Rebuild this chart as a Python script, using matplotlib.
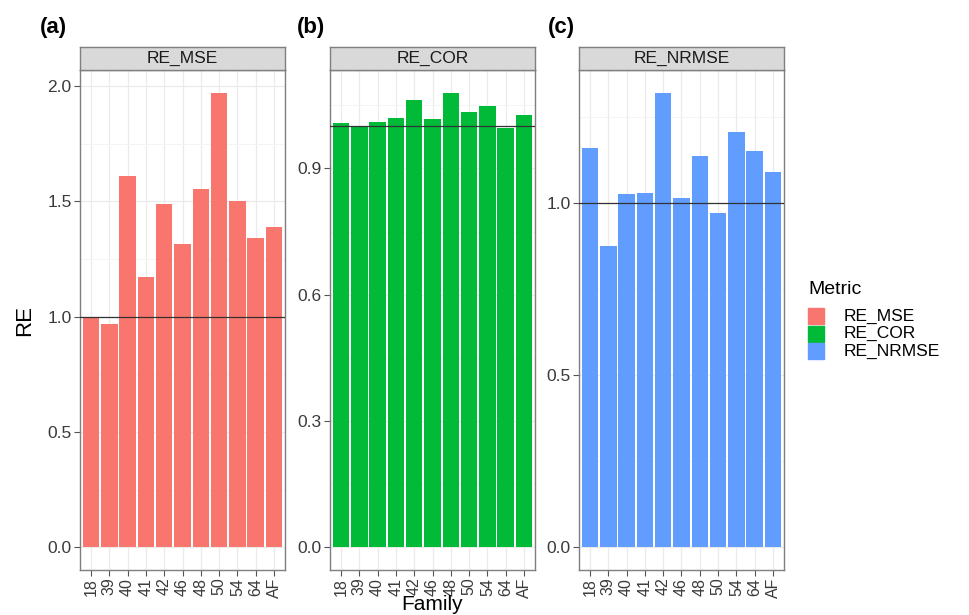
import matplotlib.pyplot as plt
from matplotlib.patches import Rectangle

plt.rcParams['font.family'] = ['Liberation Sans', 'DejaVu Sans']

families = ['18', '39', '40', '41', '42', '46', '48', '50', '54', '64', 'AF']
re_mse = [1.00, 0.967, 1.61, 1.17, 1.488, 1.313, 1.553, 1.971, 1.502, 1.339, 1.39]
re_cor = [1.008, 0.999, 1.011, 1.02, 1.062, 1.017, 1.08, 1.034, 1.049, 0.997, 1.027]
re_nrmse = [1.158, 0.874, 1.025, 1.029, 1.319, 1.013, 1.135, 0.969, 1.206, 1.151, 1.089]

metrics = ['RE_MSE', 'RE_COR', 'RE_NRMSE']
values = [re_mse, re_cor, re_nrmse]
colors = ['#F8766D', '#00BA38', '#619CFF']
yticks = [[0.0, 0.5, 1.0, 1.5, 2.0], [0.0, 0.3, 0.6, 0.9], [0.0, 0.5, 1.0]]
panel_tags = ['(a)', '(b)', '(c)']

W, H = 970, 615
fig = plt.figure(figsize=(W / 100, H / 100), dpi=100)

lefts = [80, 330, 579]
pw = 205
top, bottom = 70, 570
strip_top = 47
tag_x = [40, 297, 548]

border = '#7F7F7F'
x = list(range(len(families)))

for i in range(3):
    ax = fig.add_axes([lefts[i] / W, (H - bottom) / H, pw / W, (bottom - top) / H])
    vals = values[i]
    ax.bar(x, vals, width=0.9, color=colors[i], zorder=2)
    ax.axhline(1.0, color='#333333', lw=0.9, zorder=3)
    ax.set_xticks(x)
    ax.set_xticklabels(families, rotation=90)
    ax.set_yticks(yticks[i])
    ax.set_yticklabels(['%.1f' % v for v in yticks[i]])
    minors = [(a + b) / 2 for a, b in zip(yticks[i][:-1], yticks[i][1:])]
    minors.append(yticks[i][-1] + (yticks[i][1] - yticks[i][0]) / 2)
    ax.set_yticks(minors, minor=True)
    vmax = max(vals)
    ax.set_ylim(-0.05 * vmax, vmax * 1.05)
    ax.set_xlim(-0.6, len(families) - 0.4)
    ax.grid(True, which='major', color='#EBEBEB', lw=0.9, zorder=0)
    ax.grid(True, which='minor', axis='y', color='#F4F4F4', lw=0.7, zorder=0)
    ax.set_axisbelow(True)
    ax.tick_params(axis='both', which='major', length=4, width=0.8, color='#555555',
                   labelsize=12.5, labelcolor='#3A3A3A', pad=2)
    ax.tick_params(axis='x', which='major', labelsize=11.5, pad=1.5)
    ax.tick_params(axis='y', which='minor', length=0)
    for s in ax.spines.values():
        s.set_color(border)
        s.set_linewidth(1.0)

    sax = fig.add_axes([lefts[i] / W, (H - top) / H, pw / W, (top - strip_top) / H])
    sax.set_xticks([])
    sax.set_yticks([])
    sax.set_facecolor('#D9D9D9')
    for s in sax.spines.values():
        s.set_color(border)
        s.set_linewidth(1.0)
    sax.text(0.5, 0.5, metrics[i], ha='center', va='center', fontsize=12.5,
             color='#1A1A1A', transform=sax.transAxes)

    fig.text(tag_x[i] / W, 1 - 28 / H, panel_tags[i], fontsize=16, fontweight='bold',
             ha='left', va='center')

fig.text(25 / W, 1 - 320 / H, 'RE', fontsize=16, rotation=90, ha='center', va='center')
fig.text(432 / W, 1.5 / H, 'Family', fontsize=15, ha='center', va='bottom')

# legend
fig.text(808 / W, 1 - 290 / H, 'Metric', fontsize=14, ha='left', va='center')
for j in range(3):
    ky = 316 + j * 17.5
    fig.patches.append(Rectangle((808 / W, 1 - (ky + 8) / H), 16 / W, 16 / H,
                                 transform=fig.transFigure, color=colors[j]))
    fig.text(844 / W, 1 - ky / H, metrics[j], fontsize=12.5, ha='left', va='center')

plt.savefig('out.png', dpi=100)
